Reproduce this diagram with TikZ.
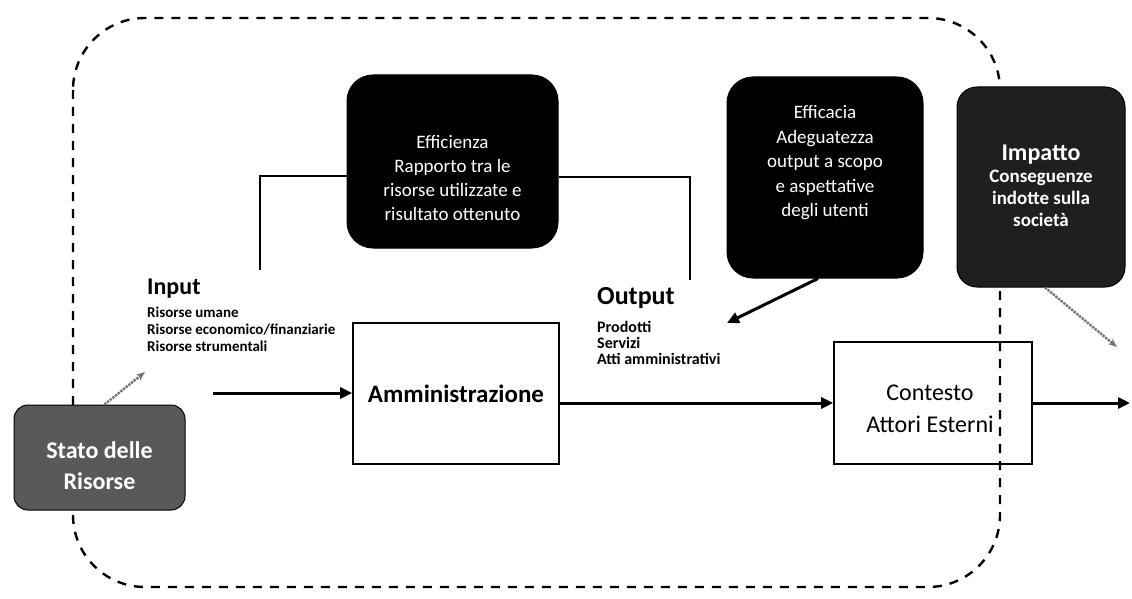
\documentclass[tikz,border=0pt]{standalone}
\usepackage{fontspec}
\setmainfont{Carlito}
\usetikzlibrary{arrows.meta}
\begin{document}
\begin{tikzpicture}[x=1pt,y=-1pt,
  darkbox/.style={draw=black,fill=black,rounded corners=26pt,line width=1pt},
  greybox/.style={draw=black,fill=black!65,rounded corners=14pt,line width=1pt},
  whitebox/.style={draw=black,fill=white,line width=1.6pt},
  boxtext/.style={text=white,align=center,font=\fontsize{19}{24}\selectfont},
  lbltext/.style={align=left,anchor=north west,inner sep=0pt},
  mainarrow/.style={line width=3pt,-{Triangle[length=12pt,width=11pt]}},
  thinarrow/.style={line width=2.4pt,draw=black!55,densely dotted,-{Stealth[length=9pt,width=7pt]}},
  boundary/.style={line width=2.4pt,dash pattern=on 9pt off 8pt,rounded corners=72pt}
]
\useasboundingbox (0,0) rectangle (1132,599);
% box under the boundary
\node[whitebox,minimum width=198pt,minimum height=122pt] (con) at (933,403) {};
% dashed boundary
\draw[boundary] (73,18) rectangle (1000,587);
\node[align=center,font=\fontsize{24}{32}\selectfont] (conT) at (930,409) {Contesto\\Attori Esterni};
% boxes
\node[darkbox,minimum width=211pt,minimum height=173pt] (eff) at (452.5,161.5) {};
\node[boxtext] (effT) at (452.5,178) {Efficienza\\Rapporto tra le\\risorse utilizzate e\\risultato ottenuto};
\node[darkbox,minimum width=196pt,minimum height=201pt] (efc) at (825,177.5) {};
\node[boxtext,font=\fontsize{19}{24.5}\selectfont] (efcT) at (825,163) {Efficacia\\Adeguatezza\\output a scopo\\e aspettative\\degli utenti};
\node[darkbox,fill=black!88,rounded corners=20pt,minimum width=168pt,minimum height=200pt] (imp) at (1041,187) {};
\node[boxtext,font=\fontsize{19}{22}\selectfont\bfseries] (impT) at (1041,186) {{\fontsize{24}{28}\selectfont Impatto}\\Conseguenze\\indotte sulla\\società};
\node[greybox,minimum width=171pt,minimum height=105pt] (sta) at (99.5,457.5) {};
\node[boxtext,font=\fontsize{24}{31}\selectfont\bfseries] (staT) at (99.5,466) {Stato delle\\Risorse};
\node[whitebox,minimum width=206pt,minimum height=141pt,font=\fontsize{25}{28}\selectfont\bfseries] (amm) at (456,393.5) {Amministrazione};
% labels
\node[lbltext,font=\fontsize{24}{26}\selectfont\bfseries] (inp) at (147,279) {Input};
\node[lbltext,font=\fontsize{15}{17}\selectfont\bfseries] (inpL) at (147,307) {Risorse umane\\Risorse economico/finanziarie\\Risorse strumentali};
\node[lbltext,font=\fontsize{26}{28}\selectfont\bfseries] (out) at (597,287) {Output};
\node[lbltext,font=\fontsize{16}{16}\selectfont\bfseries] (outL) at (597,321) {Prodotti\\Servizi\\Atti amministrativi};
% coordinates
\coordinate (inS) at (213,393);
\coordinate (outE) at (1130,403);
\coordinate (bL) at (260,270);
\coordinate (bLt) at (260,176);
\coordinate (bR) at (690,280);
\coordinate (bRt) at (690,177);
\coordinate (staE) at (145,372);
\coordinate (efcE) at (727,323);
\coordinate (impE) at (1117,347);
% connectors
\draw[line width=1.4pt] (bL) -- (bLt) -- (eff.west |- bLt);
\draw[line width=1.4pt] (eff.east |- bRt) -- (bRt) -- (bR);
\draw[mainarrow] (inS) -- (amm.west |- inS);
\draw[mainarrow] (amm.east |- con.west) -- (con.west);
\draw[mainarrow] (con.east |- outE) -- (outE);
\draw[mainarrow] ([xshift=-7pt]efc.south) -- (efcE);
\draw[thinarrow] ([xshift=5pt]sta.north) -- (staE);
\draw[thinarrow] ([xshift=4pt]imp.south) -- (impE);
\end{tikzpicture}
\end{document}
